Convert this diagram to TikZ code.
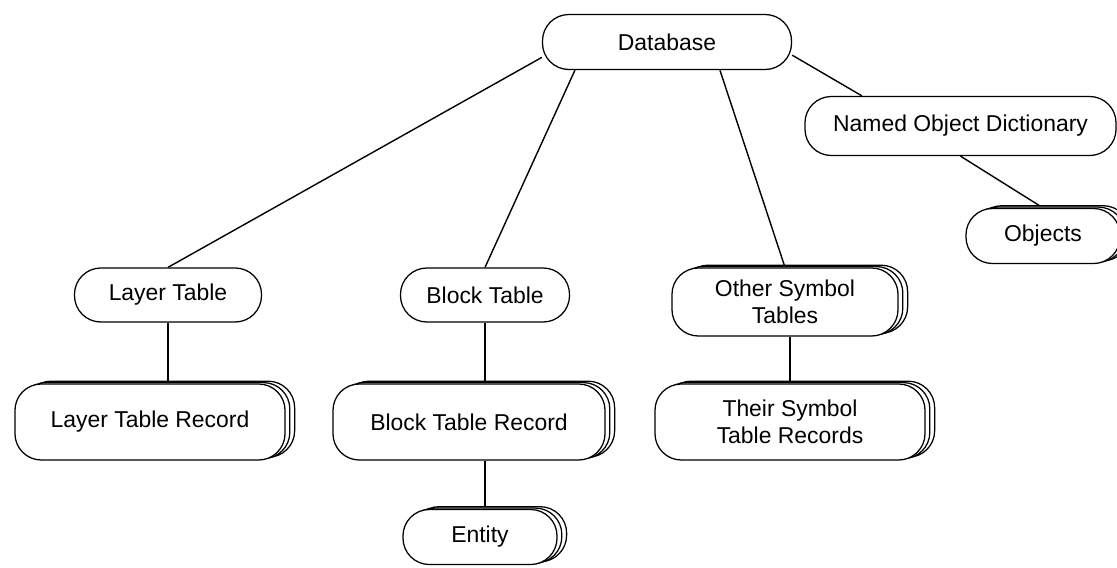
\documentclass[tikz,border=0pt]{standalone}
\usepackage{fontspec}
\setmainfont{Liberation Sans}
\usetikzlibrary{shadows,backgrounds}

\begin{document}
\begin{tikzpicture}[x=0.025cm, y=-0.025cm, line width=0.9pt,
  box/.style={draw, fill=white, rounded corners=0.66cm, inner sep=0pt,
    align=center, minimum height=1.375cm,
    font=\fontsize{16.3}{19.5}\selectfont},
  stack/.style={box, copy shadow={shadow xshift=0.24cm, shadow yshift=0.07cm},
    copy shadow={shadow xshift=0.12cm, shadow yshift=0.035cm}},
  link/.style={draw, line width=1pt}]
  \useasboundingbox (0,0) rectangle (1117,567);
  % top of the tree
  \node[box, minimum width=6.225cm] (db) at (667,42) {Database};
  \node[box, minimum width=7.775cm, minimum height=1.475cm] (dict) at (960.5,126)
    {Named Object Dictionary};
  \node[stack, minimum width=3.85cm] (obj) at (1043,236) {Objects};
  % tables
  \node[box, minimum width=4.675cm, minimum height=1.35cm] (layer) at (168,295) {Layer Table};
  \node[box, minimum width=4.225cm, minimum height=1.35cm] (block) at (485,295) {Block Table};
  \node[stack, minimum width=5.65cm, minimum height=1.7cm] (other) at (785,302)
    {Other Symbol\\Tables};
  % records
  \node[stack, minimum width=6.75cm, minimum height=1.9cm] (layerrec) at (150,422)
    {Layer Table Record};
  \node[stack, minimum width=6.8cm, minimum height=1.9cm] (blockrec) at (469,422)
    {Block Table Record};
  \node[stack, minimum width=6.75cm, minimum height=1.9cm] (otherrec) at (790,422)
    {Their Symbol\\Table Records};
  \node[stack, minimum width=3.85cm] (entity) at (480,537) {Entity};
  % connectors, behind the boxes
  \begin{pgfonlayer}{background}
    \draw[link] (db.187) -- (layer.north);
    \draw[link] (db.197) -- (block.north);
    \draw[link] (db.332) -- (other.north);
    \draw[link] (db.354) -- (dict.163);
    \draw[link] (dict.south) -- (obj.north);
    \draw[link] (layer.south) -- (layer.south |- layerrec.north);
    \draw[link] (block.south) -- (block.south |- blockrec.north);
    \draw[link] (block.south |- blockrec.south) -- (block.south |- entity.north);
    \draw[link] (otherrec.north) -- (otherrec.north |- other.south);
  \end{pgfonlayer}
\end{tikzpicture}
\end{document}
